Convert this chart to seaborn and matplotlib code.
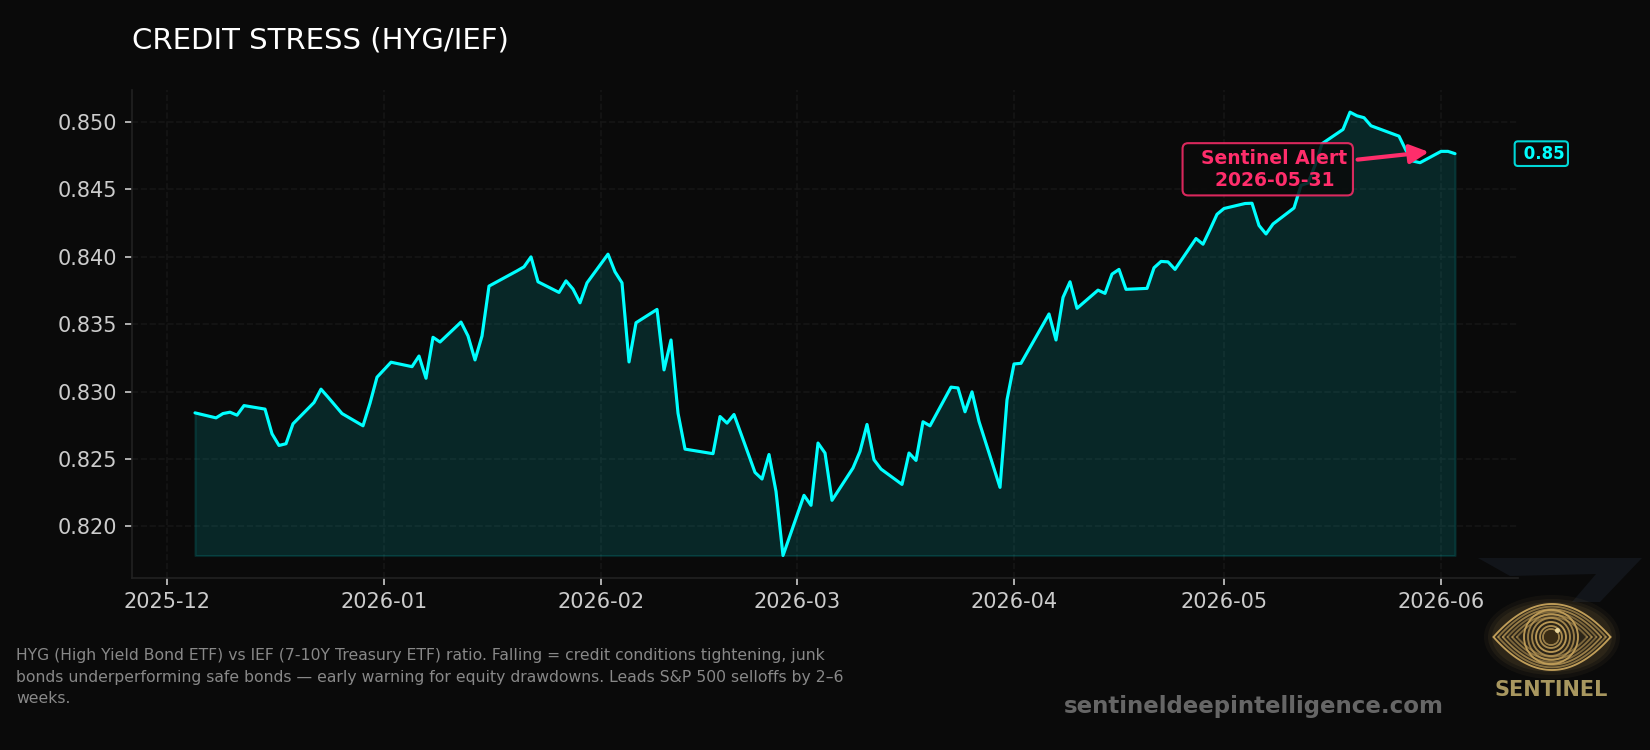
import numpy as np
import pandas as pd
import matplotlib
matplotlib.use("Agg")
import matplotlib.pyplot as plt
import matplotlib.dates as mdates
from matplotlib.patches import Ellipse, Polygon
import seaborn as sns

HOLIDAYS = ["2025-12-25", "2026-01-01", "2026-01-19", "2026-02-16", "2026-04-03", "2026-05-25"]
trade_days = pd.bdate_range("2025-12-05", "2026-06-03").difference(pd.to_datetime(HOLIDAYS))

ratio_dec = [.82842, .82805, .82837, .82847, .82825, .82896, .82870, .82687, .82600, .82613,
             .82761, .82919, .83018, .82959, .82837, .82746, .82914, .83107]
ratio_jan = [.83218, .83185, .83264, .83099, .83403, .83368, .83516, .83413, .83235, .83413,
             .83783, .83896, .83926, .84000, .83815, .83736, .83822, .83761, .83659, .83807]
ratio_feb = [.84020, .83889, .83807, .83220, .83511, .83610, .83161, .83383, .82840, .82573,
             .82539, .82815, .82766, .82830, .82400, .82351, .82533, .82259, .81783]
ratio_mar = [.82230, .82156, .82618, .82544, .82193, .82433, .82556, .82756, .82494, .82425,
             .82311, .82544, .82489, .82776, .82746, .83033, .83027, .82850, .82998, .82778,
             .82289, .82939]
ratio_apr = [.83205, .83210, .83576, .83383, .83699, .83815, .83618, .83753, .83729, .83872,
             .83907, .83759, .83766, .83919, .83966, .83963, .83907, .84136, .84094, .84203,
             .84316]
ratio_may = [.84359, .84396, .84398, .84233, .84170, .84244, .84363, .84531, .84548, .84679,
             .84840, .84946, .85074, .85047, .85033, .84973, .84896, .84790, .84711, .84699]
ratio_jun = [.84783, .84783, .84766]

ratio = ratio_dec + ratio_jan + ratio_feb + ratio_mar + ratio_apr + ratio_may + ratio_jun
frame = pd.DataFrame({"date": trade_days, "ratio": ratio})

TITLE = "CREDIT STRESS (HYG/IEF)"
NOTE = ("HYG (High Yield Bond ETF) vs IEF (7-10Y Treasury ETF) ratio. Falling = credit conditions tightening, junk\n"
        "bonds underperforming safe bonds \u2014 early warning for equity drawdowns. Leads S&P 500 selloffs by 2\u20136\n"
        "weeks.")
SITE = "sentineldeepintelligence.com"
ALERT_DATE = "2026-05-31"

BG = "#0a0a0a"
CYAN = "#00ffff"
ALERT = "#ff2d6b"
GOLD = "#c8a45c"

sns.set_theme(style="darkgrid", rc={
    "figure.facecolor": BG, "axes.facecolor": BG, "savefig.facecolor": BG,
    "axes.edgecolor": "#222222", "axes.linewidth": 0.8,
    "grid.color": "#161616", "grid.linestyle": "--", "grid.linewidth": 0.8,
    "xtick.color": "#cccccc", "ytick.color": "#cccccc",
    "xtick.bottom": True, "ytick.left": True,
    "xtick.major.size": 3.5, "ytick.major.size": 3.5,
    "xtick.major.width": 0.8, "ytick.major.width": 0.8,
    "font.size": 10,
})
plt.rcParams["font.family"] = ["DejaVu Sans"]

fig = plt.figure(figsize=(11, 5), dpi=150)
ax = fig.add_axes([132 / 1650, 1 - 577.7 / 750, (1518 - 132) / 1650, (577.7 - 90) / 750])

sns.lineplot(data=frame, x="date", y="ratio", ax=ax, color=CYAN, linewidth=1.5,
             estimator=None, errorbar=None)
ax.fill_between(frame["date"], frame["ratio"], frame["ratio"].min(), color=CYAN, alpha=0.12)
ax.margins(x=0.05, y=0.05)

ax.set_xlabel("")
ax.set_ylabel("")
ax.set_title(TITLE, loc="left", color="white", fontsize=14, pad=20)
ax.xaxis.set_major_locator(mdates.MonthLocator())
ax.xaxis.set_major_formatter(mdates.DateFormatter("%Y-%m"))
ax.yaxis.set_major_formatter(matplotlib.ticker.FormatStrFormatter("%.3f"))
ax.tick_params(labelsize=10)
ax.grid(True)
sns.despine(ax=ax)

last = ratio[-1]
ax.annotate(f" {last:.2f}", xy=(1.0, last), xycoords=ax.get_yaxis_transform(),
            color=CYAN, fontsize=8, fontweight="bold", va="center", ha="left",
            annotation_clip=False,
            bbox=dict(boxstyle="round,pad=0.2", fc=BG, ec="#00d8d8", lw=1.0))

ax.annotate(f"  Sentinel Alert\n  {ALERT_DATE}", xy=(pd.Timestamp(ALERT_DATE), ratio[-3]),
            xytext=(-79.8, -8.6), textcoords="offset points", ha="center", va="center",
            color=ALERT, fontsize=9, fontweight="bold", multialignment="center",
            bbox=dict(boxstyle="round,pad=0.3", fc=BG, ec=ALERT, lw=1.0, alpha=0.85),
            arrowprops=dict(arrowstyle="-|>", color=ALERT, lw=2, mutation_scale=19, shrinkB=2.5))

fig.text(16 / 1650, 1 - 648 / 750, NOTE, color="#888888", fontsize=7.5, va="top", ha="left",
         linespacing=1.55)
fig.text(1254 / 1650, 1 - 706 / 750, SITE, color="#666666", fontsize=11, fontweight="bold",
         ha="center", va="center")

# Brand mark in the lower right corner, laid out in figure pixels
mark = fig.add_axes([0, 0, 1, 1], zorder=5)
mark.set_xlim(0, 1650)
mark.set_ylim(750, 0)
mark.axis("off")
mark.patch.set_visible(False)

mark.add_patch(Polygon([(1478, 558), (1642, 558), (1600, 602), (1572, 602), (1596, 574), (1510, 576)],
                       closed=True, fc="#12151a", ec="none"))
for w, h, a in [(136, 84, 0.05), (128, 76, 0.07), (120, 70, 0.08)]:
    mark.add_patch(Ellipse((1552, 637), w, h, fc=GOLD, ec="none", alpha=a))

t = np.linspace(-1, 1, 80)
for scale, alpha in [(1.0, 0.95), (0.92, 0.6), (0.84, 0.7), (0.76, 0.5), (0.68, 0.6), (0.6, 0.5)]:
    half_w, half_h = 58.5 * scale, 33 * scale
    upper = 637 - half_h * (1 - t ** 2)
    lower = 637 + half_h * (1 - t ** 2)
    mark.plot(1552 + half_w * t, upper, color=GOLD, lw=0.9, alpha=alpha)
    mark.plot(1552 + half_w * t, lower, color=GOLD, lw=0.9, alpha=alpha)
for r, alpha in [(27, 0.9), (23, 0.7), (19, 0.75), (15, 0.9), (11, 0.8), (8, 0.7)]:
    mark.add_patch(Ellipse((1551, 637), r * 2, r * 2, fc="none", ec=GOLD, lw=0.9, alpha=alpha))
mark.add_patch(Ellipse((1551, 637), 14, 14, fc="#3a2c14", ec="none"))
mark.add_patch(Ellipse((1557.5, 630.5), 5, 5, fc="#e8d49a", ec="none"))
mark.text(1551.5, 690.5, "SENTINEL", color="#a8975f", fontsize=10, fontweight="bold",
          ha="center", va="center")

fig.savefig("out.png", dpi=150)
